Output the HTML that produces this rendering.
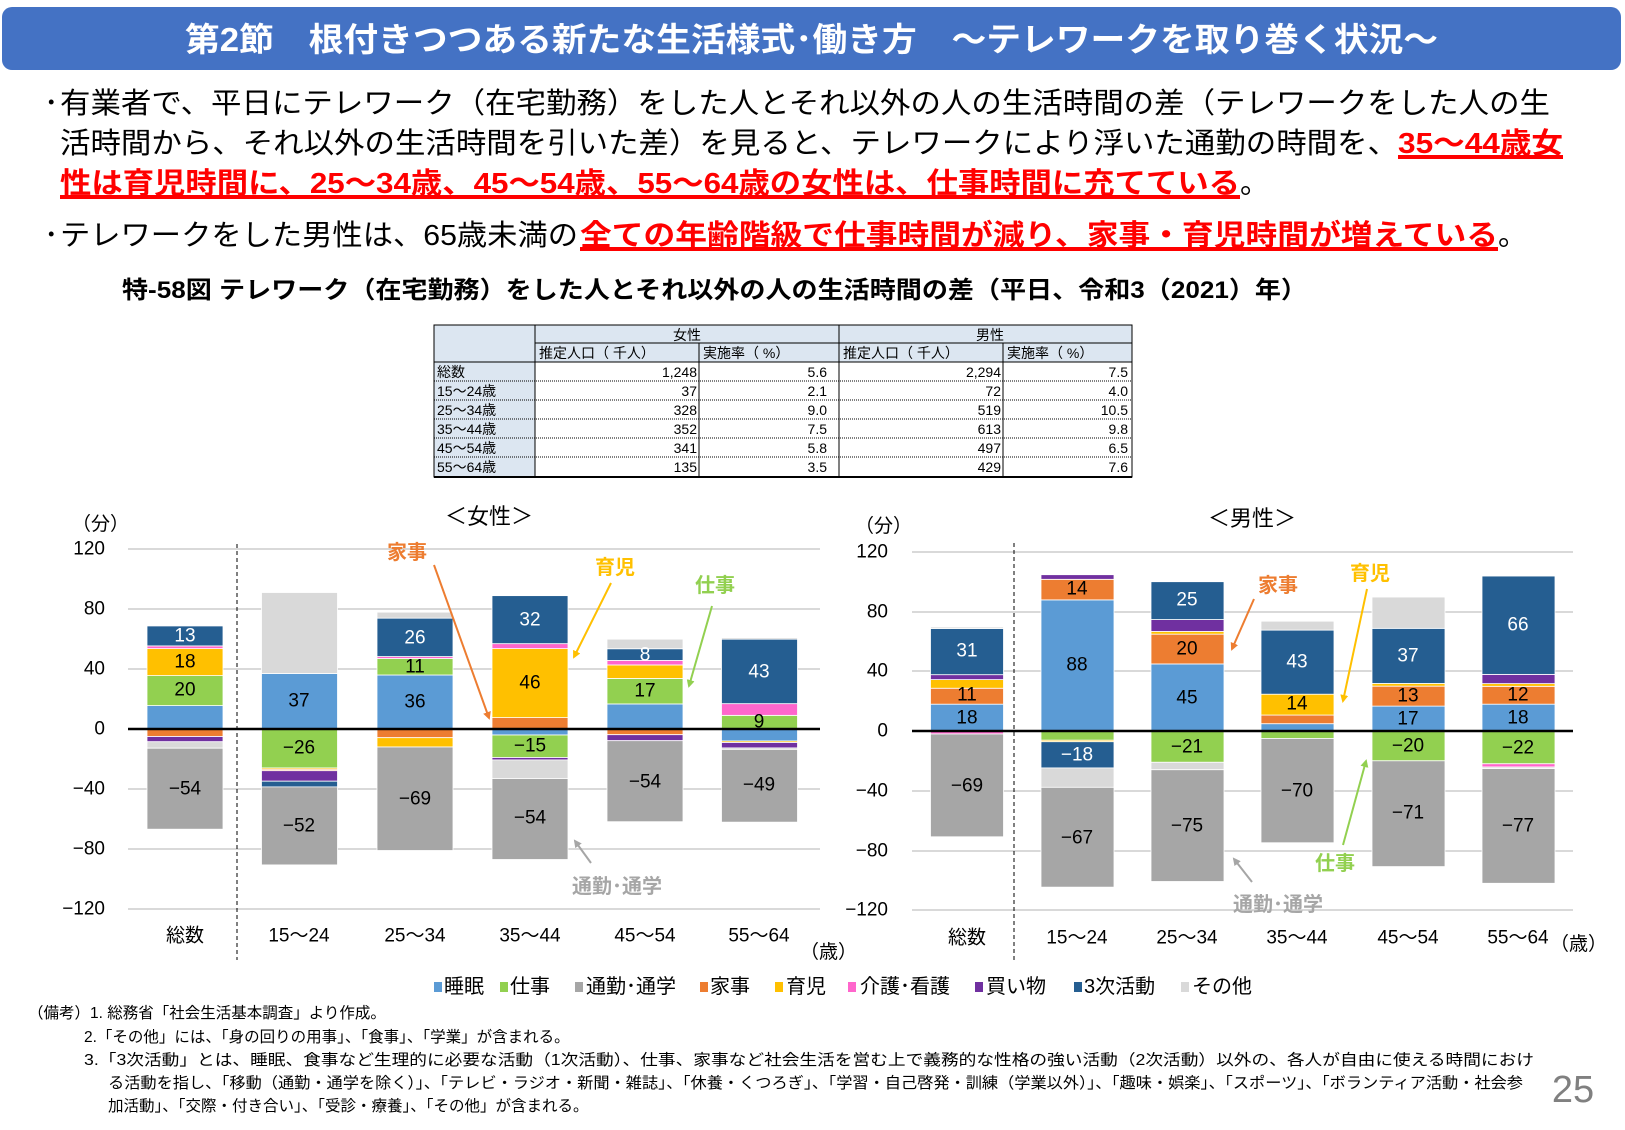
<!DOCTYPE html>
<html><head><meta charset="utf-8">
<style>
body{margin:0;background:#fff;}
svg text{font-family:"Liberation Sans","Noto Sans CJK JP",sans-serif;}
</style></head>
<body>
<svg id="s" width="1625" height="1125" viewBox="0 0 1625 1125" xmlns="http://www.w3.org/2000/svg">
<defs>
<marker id="ao" markerWidth="8" markerHeight="8" refX="6" refY="4" orient="auto" markerUnits="userSpaceOnUse"><path d="M0,0 L8,4 L0,8z" fill="#ed7d31"/></marker>
<marker id="ay" markerWidth="8" markerHeight="8" refX="6" refY="4" orient="auto" markerUnits="userSpaceOnUse"><path d="M0,0 L8,4 L0,8z" fill="#ffc000"/></marker>
<marker id="ag" markerWidth="8" markerHeight="8" refX="6" refY="4" orient="auto" markerUnits="userSpaceOnUse"><path d="M0,0 L8,4 L0,8z" fill="#92d050"/></marker>
<marker id="ah" markerWidth="8" markerHeight="8" refX="6" refY="4" orient="auto" markerUnits="userSpaceOnUse"><path d="M0,0 L8,4 L0,8z" fill="#a6a6a6"/></marker>
</defs>
<rect x="2" y="7" width="1619" height="63" rx="10" fill="#4472c4"/>
<text x="185" y="51" font-size="33" font-weight="bold" fill="#fff" textLength="1253" lengthAdjust="spacingAndGlyphs">第2節　根付きつつある新たな生活様式･働き方　～テレワークを取り巻く状況～</text>
<g font-size="29" fill="#000">
<text x="44" y="113">･</text>
<text x="60" y="113" textLength="1490" lengthAdjust="spacingAndGlyphs">有業者で、平日にテレワーク（在宅勤務）をした人とそれ以外の人の生活時間の差（テレワークをした人の生</text>
<text x="60" y="153" textLength="1338" lengthAdjust="spacingAndGlyphs">活時間から、それ以外の生活時間を引いた差）を見ると、テレワークにより浮いた通勤の時間を、</text>
<text x="1398" y="153" textLength="165" lengthAdjust="spacingAndGlyphs" fill="#ff0000" font-weight="bold" text-decoration="underline">35～44歳女</text>
<text x="60" y="193" textLength="1180" lengthAdjust="spacingAndGlyphs" fill="#ff0000" font-weight="bold" text-decoration="underline">性は育児時間に、25～34歳、45～54歳、55～64歳の女性は、仕事時間に充てている</text>
<text x="1240" y="193">。</text>
<text x="44" y="245">･</text>
<text x="60" y="245" textLength="518" lengthAdjust="spacingAndGlyphs">テレワークをした男性は、65歳未満の</text>
<text x="580" y="245" textLength="918" lengthAdjust="spacingAndGlyphs" fill="#ff0000" font-weight="bold" text-decoration="underline">全ての年齢階級で仕事時間が減り、家事・育児時間が増えている</text>
<text x="1498" y="245">。</text>
</g>
<line x1="1398" y1="158" x2="1563" y2="158" stroke="#f00" stroke-width="2"/>
<line x1="60" y1="198" x2="1240" y2="198" stroke="#f00" stroke-width="2"/>
<line x1="580" y1="250" x2="1498" y2="250" stroke="#f00" stroke-width="2"/>
<text x="122" y="298" font-size="24" font-weight="bold" textLength="1185" lengthAdjust="spacingAndGlyphs">特-58図 テレワーク（在宅勤務）をした人とそれ以外の人の生活時間の差（平日、令和3（2021）年）</text>

<g font-size="14">
<rect x="434" y="325" width="698" height="37" fill="#dce6f1"/>
<rect x="434" y="362" width="101" height="115" fill="#dce6f1"/>
<rect x="434" y="325" width="698" height="152" fill="none" stroke="#000" stroke-width="1"/>
<line x1="434" y1="477" x2="1132" y2="477" stroke="#000" stroke-width="2"/>
<line x1="535" y1="325" x2="535" y2="477" stroke="#000"/>
<line x1="839" y1="325" x2="839" y2="477" stroke="#000"/>
<line x1="699" y1="343" x2="699" y2="477" stroke="#000"/>
<line x1="1003" y1="343" x2="1003" y2="477" stroke="#000"/>
<line x1="535" y1="343" x2="1132" y2="343" stroke="#000"/>
<line x1="434" y1="362" x2="1132" y2="362" stroke="#000"/>
<g stroke="#000" stroke-dasharray="1,1">
<line x1="434" y1="381" x2="1132" y2="381"/><line x1="434" y1="400" x2="1132" y2="400"/><line x1="434" y1="419" x2="1132" y2="419"/><line x1="434" y1="438" x2="1132" y2="438"/><line x1="434" y1="457" x2="1132" y2="457"/>
</g>
<text x="687" y="340" text-anchor="middle">女性</text>
<text x="990" y="340" text-anchor="middle">男性</text>
<text x="539" y="358">推定人口（ 千人）</text><text x="703" y="358">実施率（ %）</text>
<text x="843" y="358">推定人口（ 千人）</text><text x="1007" y="358">実施率（ %）</text>
<text x="437" y="377">総数</text><text x="437" y="396">15～24歳</text><text x="437" y="415">25～34歳</text><text x="437" y="434">35～44歳</text><text x="437" y="453">45～54歳</text><text x="437" y="472">55～64歳</text>
<g text-anchor="end">
<text x="697" y="377">1,248</text><text x="697" y="396">37</text><text x="697" y="415">328</text><text x="697" y="434">352</text><text x="697" y="453">341</text><text x="697" y="472">135</text>
<text x="827" y="377">5.6</text><text x="827" y="396">2.1</text><text x="827" y="415">9.0</text><text x="827" y="434">7.5</text><text x="827" y="453">5.8</text><text x="827" y="472">3.5</text>
<text x="1001" y="377">2,294</text><text x="1001" y="396">72</text><text x="1001" y="415">519</text><text x="1001" y="434">613</text><text x="1001" y="453">497</text><text x="1001" y="472">429</text>
<text x="1128" y="377">7.5</text><text x="1128" y="396">4.0</text><text x="1128" y="415">10.5</text><text x="1128" y="434">9.8</text><text x="1128" y="453">6.5</text><text x="1128" y="472">7.6</text>
</g>
</g>

<g stroke="#d9d9d9" stroke-width="2">
<line x1="128" y1="549" x2="820" y2="549"/><line x1="128" y1="609" x2="820" y2="609"/><line x1="128" y1="669" x2="820" y2="669"/><line x1="128" y1="789" x2="820" y2="789"/><line x1="128" y1="849" x2="820" y2="849"/><line x1="128" y1="909" x2="820" y2="909"/>
<line x1="912" y1="552" x2="1573" y2="552"/><line x1="912" y1="612" x2="1573" y2="612"/><line x1="912" y1="671" x2="1573" y2="671"/><line x1="912" y1="791" x2="1573" y2="791"/><line x1="912" y1="851" x2="1573" y2="851"/><line x1="912" y1="910" x2="1573" y2="910"/>
</g>
<g id="bars"></g>
<line x1="128" y1="729" x2="820" y2="729" stroke="#000" stroke-width="2.5"/>
<line x1="912" y1="731" x2="1573" y2="731" stroke="#000" stroke-width="2.5"/>
<line x1="237" y1="544" x2="237" y2="960" stroke="#000" stroke-dasharray="4,3"/>
<line x1="1014" y1="543" x2="1014" y2="960" stroke="#000" stroke-dasharray="4,3"/>

<g font-size="19" text-anchor="end" dominant-baseline="central">
<text x="105" y="549">120</text><text x="105" y="609">80</text><text x="105" y="669">40</text><text x="105" y="729">0</text><text x="105" y="789">−40</text><text x="105" y="849">−80</text><text x="105" y="909">−120</text>
<text x="888" y="552">120</text><text x="888" y="612">80</text><text x="888" y="671">40</text><text x="888" y="731">0</text><text x="888" y="791">−40</text><text x="888" y="851">−80</text><text x="888" y="910">−120</text>
</g>
<g font-size="19">
<text x="72" y="530">（分）</text><text x="855" y="532">（分）</text>
<text x="800" y="958">（歳）</text><text x="1550" y="950">（歳）</text>
</g>
<g font-size="22" text-anchor="middle">
<text x="489" y="524">＜女性＞</text><text x="1252" y="526">＜男性＞</text>
</g>
<g font-size="19" text-anchor="middle" dominant-baseline="central">
<text x="185" y="936">総数</text><text x="299" y="936">15～24</text><text x="415" y="936">25～34</text><text x="530" y="936">35～44</text><text x="645" y="936">45～54</text><text x="759" y="936">55～64</text>
<text x="967" y="938">総数</text><text x="1077" y="938">15～24</text><text x="1187" y="938">25～34</text><text x="1297" y="938">35～44</text><text x="1408" y="938">45～54</text><text x="1518" y="938">55～64</text>
</g>

<g font-size="19" text-anchor="middle" dominant-baseline="central" fill="#000">
<text x="185" y="636" fill="#fff">13</text><text x="185" y="662">18</text><text x="185" y="690">20</text><text x="185" y="789">−54</text>
<text x="299" y="701">37</text><text x="299" y="748">−26</text><text x="299" y="826">−52</text>
<text x="415" y="638" fill="#fff">26</text><text x="415" y="667">11</text><text x="415" y="702">36</text><text x="415" y="799">−69</text>
<text x="530" y="620" fill="#fff">32</text><text x="530" y="683">46</text><text x="530" y="746">−15</text><text x="530" y="818">−54</text>
<text x="645" y="655" fill="#fff">8</text><text x="645" y="691">17</text><text x="645" y="782">−54</text>
<text x="759" y="672" fill="#fff">43</text><text x="759" y="722">9</text><text x="759" y="785">−49</text>
<text x="967" y="651" fill="#fff">31</text><text x="967" y="695">11</text><text x="967" y="718">18</text><text x="967" y="786">−69</text>
<text x="1077" y="589">14</text><text x="1077" y="665">88</text><text x="1077" y="755" fill="#fff">−18</text><text x="1077" y="838">−67</text>
<text x="1187" y="600" fill="#fff">25</text><text x="1187" y="649">20</text><text x="1187" y="698">45</text><text x="1187" y="747">−21</text><text x="1187" y="826">−75</text>
<text x="1297" y="662" fill="#fff">43</text><text x="1297" y="704">14</text><text x="1297" y="791">−70</text>
<text x="1408" y="656" fill="#fff">37</text><text x="1408" y="696">13</text><text x="1408" y="719">17</text><text x="1408" y="746">−20</text><text x="1408" y="813">−71</text>
<text x="1518" y="625" fill="#fff">66</text><text x="1518" y="695">12</text><text x="1518" y="718">18</text><text x="1518" y="748">−22</text><text x="1518" y="826">−77</text>
</g>

<g font-size="20" font-weight="bold" text-anchor="middle" dominant-baseline="central">
<text x="407" y="553" fill="#ed7d31">家事</text><text x="615" y="568" fill="#ffc000">育児</text><text x="715" y="586" fill="#92d050">仕事</text><text x="617" y="887" fill="#a6a6a6">通勤･通学</text>
<text x="1278" y="586" fill="#ed7d31">家事</text><text x="1370" y="574" fill="#ffc000">育児</text><text x="1335" y="864" fill="#92d050">仕事</text><text x="1278" y="905" fill="#a6a6a6">通勤･通学</text>
</g>
<g stroke-width="2" fill="none">
<line x1="434" y1="565" x2="489" y2="718" stroke="#ed7d31" marker-end="url(#ao)"/>
<line x1="611" y1="583" x2="574" y2="657" stroke="#ffc000" marker-end="url(#ay)"/>
<line x1="712" y1="606" x2="689" y2="686" stroke="#92d050" marker-end="url(#ag)"/>
<line x1="591" y1="863" x2="575" y2="841" stroke="#a6a6a6" marker-end="url(#ah)"/>
<line x1="1254" y1="599" x2="1232" y2="649" stroke="#ed7d31" marker-end="url(#ao)"/>
<line x1="1367" y1="589" x2="1343" y2="701" stroke="#ffc000" marker-end="url(#ay)"/>
<line x1="1343" y1="845" x2="1366" y2="761" stroke="#92d050" marker-end="url(#ag)"/>
<line x1="1252" y1="882" x2="1234" y2="859" stroke="#a6a6a6" marker-end="url(#ah)"/>
</g>

<g font-size="20" dominant-baseline="central">
<rect x="434" y="982" width="8" height="10" fill="#5b9bd5"/><text x="444" y="987">睡眠</text>
<rect x="500" y="982" width="8" height="10" fill="#92d050"/><text x="510" y="987">仕事</text>
<rect x="575" y="982" width="8" height="10" fill="#a6a6a6"/><text x="586" y="987">通勤･通学</text>
<rect x="700" y="982" width="8" height="10" fill="#ed7d31"/><text x="710" y="987">家事</text>
<rect x="775" y="982" width="8" height="10" fill="#ffc000"/><text x="786" y="987">育児</text>
<rect x="848" y="982" width="8" height="10" fill="#ff66cc"/><text x="860" y="987">介護･看護</text>
<rect x="975" y="982" width="8" height="10" fill="#7030a0"/><text x="986" y="987">買い物</text>
<rect x="1074" y="982" width="8" height="10" fill="#255e91"/><text x="1084" y="987">3次活動</text>
<rect x="1181" y="982" width="8" height="10" fill="#d9d9d9"/><text x="1192" y="987">その他</text>
</g>
<g font-size="15.5">
<text x="28" y="1018">（備考）1. 総務省「社会生活基本調査」より作成。</text>
<text x="84" y="1042">2.「その他」には、「身の回りの用事」、「食事」、「学業」が含まれる。</text>
<text x="84" y="1065" textLength="1450" lengthAdjust="spacingAndGlyphs">3.「3次活動」とは、睡眠、食事など生理的に必要な活動（1次活動）、仕事、家事など社会生活を営む上で義務的な性格の強い活動（2次活動）以外の、各人が自由に使える時間におけ</text>
<text x="108" y="1088" textLength="1415" lengthAdjust="spacingAndGlyphs">る活動を指し、「移動（通勤・通学を除く）」、「テレビ・ラジオ・新聞・雑誌」、「休養・くつろぎ」、「学習・自己啓発・訓練（学業以外）」、「趣味・娯楽」、「スポーツ」、「ボランティア活動・社会参</text>
<text x="108" y="1111">加活動」、「交際・付き合い」、「受診・療養」、「その他」が含まれる。</text>
</g>
<text x="1573" y="1102" font-size="38" fill="#808080" text-anchor="middle">25</text>
</svg>
<script>
var C={s:"#5b9bd5",w:"#92d050",c:"#a6a6a6",h:"#ed7d31",k:"#ffc000",n:"#ff66cc",b:"#7030a0",t:"#255e91",o:"#d9d9d9"};
function chart(y0,sc,w,bars){var g=document.getElementById("bars"),out="";
bars.forEach(function(b){var x=b[0]-w/2,p=0,n=0;
b[1].forEach(function(q){var h=q[1]*sc;out+='<rect x="'+x+'" y="'+(y0-p-h)+'" width="'+w+'" height="'+h+'" fill="'+C[q[0]]+'" stroke="#fff" stroke-width="0.8"/>';p+=h;});
b[2].forEach(function(q){var h=q[1]*sc;out+='<rect x="'+x+'" y="'+(y0+n)+'" width="'+w+'" height="'+h+'" fill="'+C[q[0]]+'" stroke="#fff" stroke-width="0.8"/>';n+=h;});
});g.innerHTML+=out;}
chart(729,1.5,76,[
[185,[["s",15.6],["w",20],["k",18],["n",1.8],["t",13.3]],[["h",5],["b",3.5],["o",4.3],["c",54]]],
[299.5,[["s",37],["o",54]],[["w",26],["k",0.9],["h",0.9],["b",7],["t",3.8],["c",52]]],
[415,[["s",36],["w",11],["n",1.3],["t",25.6],["o",4]],[["h",5.8],["k",6.2],["c",69]]],
[530,[["h",7.6],["k",46],["n",3.3],["t",32]],[["s",4],["w",15],["b",1.6],["o",12.4],["c",54]]],
[645,[["s",16.7],["w",17],["k",9],["n",3],["t",7.8],["o",6.4]],[["h",3.8],["b",4],["c",54]]],
[759.5,[["s",0.1],["w",9],["n",7.8],["t",43],["o",1]],[["s",8],["k",1],["b",3.6],["o",1],["c",48.5]]]]);
chart(731,1.49,73,[
[967,[["s",18],["h",10.7],["k",5.8],["b",3.3],["t",31],["o",1]],[["n",2],["c",69]]],
[1077.5,[["s",88],["h",13.8],["b",3.1]],[["w",6.2],["k",1],["t",17.6],["o",13],["c",67]]],
[1187.5,[["s",45],["h",20],["k",1.8],["b",8],["t",25.4]],[["w",21],["o",5],["c",75]]],
[1297.5,[["s",4.9],["h",5.8],["k",14],["t",43],["o",6]],[["w",5],["c",70]]],
[1408.5,[["s",16.7],["h",13.4],["k",1.8],["t",37],["o",21]],[["w",20],["c",71]]],
[1518.5,[["s",18],["h",12],["k",1.8],["b",6.2],["t",66]],[["w",22],["n",2.2],["o",1],["c",77]]]]);
</script>
</body></html>
